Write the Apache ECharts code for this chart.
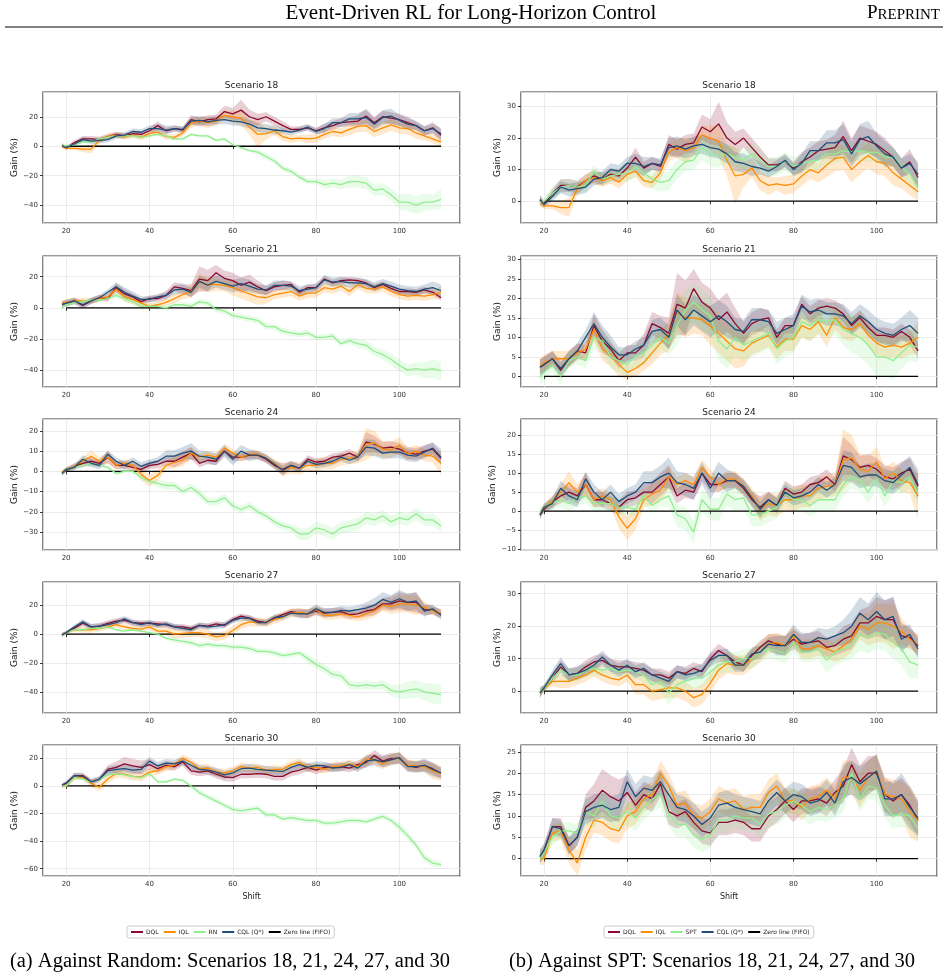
<!DOCTYPE html>
<html>
<head>
<meta charset="utf-8">
<script src="https://cdn.jsdelivr.net/npm/echarts@6/dist/echarts.min.js"></script>
<style>html,body{margin:0;background:#fff}#chart{width:948px;height:979px}</style>
</head>
<body>
<div id="chart"></div>
<script>
// shift values where the curves are sampled
var shifts = [19,20,22,24,26,28,30,32,34,36, 38,40,42,44,46,48,50,52,54,56, 58,60,62,64,66,68,70,72,74,76, 78,80,82,84,86,88,90,92,94,96, 98,100,102,104,106,108,110];

// Scenario 18 (mean gain %, then std band)
var s18Dql = [0.5,-1,2.5,5,5,4.5,6.5,8,7,8.5, 8,10.5,14,10.5,12,11,18,16.5,18,18.5, 23.5,22,24.5,20,18,20,17,14,11.5,11.5, 12.5,10.5,12.5,14,16,16.5,17,20.5,16,20, 19,18,16,14,10.5,12.5,7.5];
var s18Iql = [0,-1.5,-1.5,-2,-2,4,6.5,7.5,6.5,7.5, 6,8.5,9.5,6.5,6,9,15.5,17,16,17, 21,20,19,13,8,8.5,10.5,6.5,5,5.5, 5,5.5,8,10,9,11.5,13.5,14,10,12.5, 14.5,12.5,12,9,7,5,3];
var s18Cql = [0.5,-1,1.5,4.5,3.5,4,4.5,7,7.5,10, 9.5,12,12,11,12,11.5,17,17.5,16.5,17.5, 18,17,16.5,15,12.5,12,11,10.5,9.5,11, 13,10,12,16,16,18.5,18.5,19.5,15,19.5, 20.5,17.5,15,14,10.5,12,8.5];
var s18Spt = [-0.5,0,2.5,4.5,5,4.5,5,9.5,7,8, 8.5,9,11,9,7,6,6.5,10,12.5,13, 17,15,14.5,15,14,13,15,13,11,11, 12.5,11,12,12.5,13,15,15,16,15.5,16, 15.5,15.5,14,14,11,8.5,4.5];
var s18Rn = [1,0,1,3,3,5,6,7,7,7, 6,7,8,7,5,5,8,7,7,4, 5,1,-1,-3,-4,-7,-10,-15,-17,-21, -24,-24,-26,-25,-26,-24,-24,-25,-30,-29, -33,-38,-38,-40,-38,-38,-36];
var sd18Dql = [1.5,1,1.5,2,2,2,2,2,2,2, 2,2,3,2,2,2,3,3,3,3, 4,4,7,5,4,3,3,3,2,2, 2,2,3,3,3,3,4,5,4,4, 4,4,4,3,3,4,4];
var sd18Iql = [1.5,1,1,2,3,2,2,2,2,2, 2,2,2,2,2,2,3,3,4,3, 3,4,5,5,9,4,3,3,3,2, 3,3,3,3,3,4,4,4,4,4, 4,4,4,4,3,3,3];
var sd18Cql = [1.5,1,1.5,2,2,2,2,2,2,2, 2,2,3,3,2,2,3,3,3,3, 3,3,3,3,3,3,3,2,2,2, 2,2,3,3,3,4,4,5,4,5, 5,4,4,3,3,3,4];
var sd18Spt = [1,1,2,2,2,2,2,2,2,2, 2,3,3,3,3,3,3,3,3,3, 4,4,4,3,3,3,4,3,3,3, 3,3,3,3,3,3,3,3,3,3, 3,3,3,3,3,3,3];
var sd18Rn = [1,1,1,1,1,1,1,1,1,1, 1,1,1,1,1,1,1,1,1,1, 1,1,1,1,2,2,2,2,2,2, 2,2,3,3,3,4,4,4,4,4, 4,5,6,6,6,5,7];

// Scenario 21
var s21Dql = [2.3,3,4.5,1.5,4.5,6.5,6,13,9,7, 4,6,6,8,13.5,12.5,11,18.5,17.5,22.5, 19,17.5,14.5,16.5,13.5,11,13.5,14.5,15,10, 13,13,18.5,16,17.5,18,17.5,16,13,15, 12.5,10.5,10.5,10,11.5,10,6.5];
var s21Iql = [2.5,3.5,4.5,4.5,4.5,6,7,12,7,5.5, 3,1,2,3.5,6,8.5,10.5,16.5,15,15, 14.5,13,11,9,7,6.5,8.5,9.5,10.5,7.5, 9.5,9.5,13,12,14,10.5,15,12.5,12,13.5, 10.5,8.5,7.5,8,7.5,8.5,10];
var s21Cql = [2.3,3,4.5,2,4.5,6.5,10,13.5,10,7.5, 5.5,5.5,7,8,11.5,12,10,17,14.5,17, 15.5,14,15.5,14,12,11.5,14.5,14.5,14,11, 12,13,18,16.5,17,16,16,15.5,13.5,15.5, 14,12,11,10.5,12,13,11];
var s21Spt = [-0.3,1,3,0,4,5,4,10,9,5, 4,3,5,6,8,10,8.5,13,17,19, 17,15.5,9,7,10,8,9,10,11,7, 9,10,14,13,14.5,14,14.5,12,11,10, 8,5,5,4,6,8,7.5];
var s21Rn = [0,2,3,4,5,5,6,8,6,4, 1,1,1,0,2,2,1,4,3,-1, -2,-5,-6,-7,-8,-12,-12,-15,-16,-17, -16,-19,-19,-18,-23,-21,-23,-24,-28,-30, -33,-37,-40,-39,-40,-39,-40.5];
var sd21Dql = [2,2,2,2,2,2,2,3,3,2, 2,2,2,3,3,3,4,8,7,5, 5,5,5,5,4,3,3,3,2,2, 2,2,2,2,2,2,2,2,2,2, 2,2,2,2,2,2,2];
var sd21Iql = [2,2,2,2,2,2,2,3,3,3, 3,2,2,2,3,3,4,5,5,4, 4,5,5,5,5,4,3,3,3,3, 3,3,3,3,3,3,3,3,3,3, 3,3,3,3,3,3,4];
var sd21Cql = [2,2,2,2,2,2,2,3,3,3, 2,2,2,2,3,3,3,4,4,4, 4,4,4,4,3,3,3,3,3,3, 3,3,3,3,3,3,3,3,3,3, 3,3,3,3,3,4,4];
var sd21Spt = [2,2,2,2,2,2,2,3,3,3, 3,3,3,3,3,3,3,5,5,5, 5,5,5,5,5,4,4,4,4,4, 4,4,4,4,4,4,4,4,5,5, 5,5,5,5,4,4,4];
var sd21Rn = [1,1,1,1,1,1,1,2,2,2, 2,2,2,2,2,2,2,2,2,2, 2,2,2,2,2,2,2,2,2,2, 2,2,2,2,2,2,3,3,3,3, 4,4,4,4,5,6,6];

// Scenario 24
var s24Dql = [-1,0.5,2.5,4,5,4,7,3,3,2, 1,3,3.5,5,5,7,9,4,5.5,5, 10,7,7,8,8,6,3,1,3,1.5, 6,4.5,5,7,7.5,9,7,14.5,13.5,11.5, 12,11,9,8.5,10,11,6.5];
var s24Iql = [-0.5,1,2.5,5,7.5,5,7,3,4,3, -1.5,-4.5,-2,3,4.5,5.5,9,7,8,7, 11.5,9,7,8.5,8.5,6.5,4,0.5,2,1.5, 3,3,4,4,6,6.5,7,13.5,14,11, 10.5,13,8.5,10,8,7.5,4];
var s24Cql = [-1,1,2,6,4,3,8.5,5,3,5, 2.5,4,5,7.5,7.5,9,10,7.5,7,6, 10,6,10,8,8,6.5,3.5,0.5,3,1.5, 5,3.5,4,5,7,5.5,7,12,11.5,9, 9.5,9.5,8,7.5,9.5,11.5,7];
var s24Spt = [-0.5,1,2,3,2,3.5,4,2,2,2, 1,1,0.5,4,1.5,3,4,-1,-2,-5.5, 3,0.5,0.5,4.5,3,3.5,-1,-1,0,1, 5,3,3,1.5,3,3,3,7,9,8, 5,8.5,4,8,7.5,9,4.5];
var s24Rn = [-1,1,2,3,4,3,2,-1,0,0, -3,-5,-6,-7,-7,-10,-8,-11,-15,-15, -13,-17,-19,-17,-20,-22,-25,-27,-28,-31, -31,-28,-29,-31,-28,-27,-26,-23,-24,-22, -25,-23,-24,-21,-24,-24,-27];
var sd24Dql = [1,1,1.5,2,2,2,3,2,2,2, 2,2,2,2,3,3,3,2,2,2, 2,2,2,2,2,2,2,3,2,2, 2,2,2,2,2,2,2,5,4,3, 3,3,3,3,3,3,3];
var sd24Iql = [1,1,1.5,2,3,2,3,2,2,2, 3,3,3,2,3,3,3,2,2,2, 2,2,2,2,2,2,2,3,3,3, 3,3,3,3,3,3,3,8,6,4, 4,4,3,3,3,3,6];
var sd24Cql = [1,1,1.5,2,2,2,2,2,2,2, 2,2,2,3,3,3,4,3,3,3, 3,3,3,3,2,2,2,2,2,2, 2,2,2,2,2,2,2,4,4,3, 3,3,3,3,3,3,4];
var sd24Spt = [1,1,1.5,2,2,2,2,2,2,2, 2,2,2,2,2,2,3,3,3,3, 3,3,3,3,3,3,3,3,3,3, 3,3,3,3,3,3,3,3,3,3, 3,3,3,3,3,3,3];
var sd24Rn = [1,1,1,1,1,1,1,1,1,1, 1,1,2,2,2,2,2,2,2,2, 2,2,2,2,2,2,2,2,2,3, 3,3,3,3,3,3,3,3,3,3, 3,3,3,3,3,3,3];

// Scenario 27
var s27Dql = [-0.5,1,4,7.5,5,5.5,7.5,9,9.5,8, 7.5,7.5,7,6.5,5,5,4,6,5.5,7, 6,10,12.5,11,9,8,11,13.5,15.5,14.5, 14,16,14.5,15,15.5,13.5,14,16,17,21, 21,23,22,22,17,16.5,14];
var s27Iql = [-0.5,1,3,3,3,4,5,6.5,5,4, 3.5,5,2,2,0,0.5,1,1,0,-2, -1,2.5,6.5,8.5,8,8,10,12,14.5,15, 14,17,13,13,14,13,12,14,16,20, 19,21,21,20,18.5,16,14.5];
var s27Cql = [-0.5,1,5,8.5,5,5.5,6.5,8,10.5,8, 6.5,8,6,7,5,4,3,6,5,5.5, 6.5,9.5,11,11,8,8,11.5,12,14.5,14, 14,17.5,15,15,16.5,16,17,18,20,24, 22,24.5,22,23,16,17.5,13];
var s27Spt = [0,1,4,6.5,5,5,6.5,7,6.5,7, 6,6.5,6,5,2,3,-0.5,2,3,4, 4,6,8,9,9,10,10,12,13,12.5, 11.5,15,12,12,13,9.5,12,13,14,17.5, 16.5,18,17.5,15,13,9,8];
var s27Rn = [-1,1,3,3,4,4,5,3,2,3, 2,1,0,-3,-4,-5,-6,-8,-7,-8, -8,-9,-9,-10,-12,-12,-13,-15,-14,-13, -17,-21,-24,-28,-29,-35,-36,-35,-36,-35, -39,-40,-39,-38,-40,-41,-42];
var sd27Dql = [1.5,1,1.5,2,2,2,2,2,2,2, 2,2,2,2,2,2,2,2,2,2, 2,2,2,2,2,2,2,2,2,3, 3,3,3,3,3,3,3,4,4,4, 5,6,6,7,4,3,3];
var sd27Iql = [1.5,1,1.5,2,2,2,2,2,2,2, 2,2,3,3,3,3,3,3,3,3, 3,3,3,3,3,3,3,3,3,3, 3,3,3,3,3,3,3,4,4,4, 5,6,6,7,4,3,3];
var sd27Cql = [1.5,1,1.5,2,2,2,2,2,2,2, 2,2,2,2,2,2,2,2,2,2, 2,2,2,2,2,2,2,2,2,3, 3,3,3,3,3,3,3,4,5,5, 5,6,6,6,4,3,3];
var sd27Spt = [1.5,1,1.5,2,2,2,2,2,2,2, 2,2,2,2,3,3,4,3,3,3, 3,3,3,3,3,3,3,3,3,3, 3,3,3,3,3,4,4,4,4,5, 5,5,5,5,5,5,4];
var sd27Rn = [1,1,1,1,1,1,1,1,1,1, 1,1,1,1,2,2,2,2,2,2, 2,2,2,2,2,2,2,2,2,2, 3,3,3,3,3,3,3,3,3,3, 4,5,6,6,6,7,7];

// Scenario 30
var s30Dql = [0.5,2,7.5,7.5,3,5,12,13.5,16,14.5, 13.5,15.5,12.5,15,14,17.5,11,10,11,8.5, 6.5,6,8.5,8.5,9,8.5,7,7,10,11.5, 13.5,11.5,13.5,13.5,14,13,15.5,17,22,18, 20,20,15,13.5,15,12.5,9];
var s30Iql = [0,0,6,6.5,2,-1,5,9,8.5,7, 6.5,10,11,14,15,20,17,12.5,13,10, 9.5,11,14,13,13.5,11.5,12,12,15.5,17, 13.5,13.5,12,14,14.5,16,14,19,19,16, 19,20.5,15,14.5,14,11,9];
var s30Cql = [0.5,2,7.5,7,3,5,11,12,12.5,11.5, 12,18,14.5,16.5,16,18,15,12,11.5,10, 8,9.5,12.5,13,12,11.5,11,10.5,13.5,15.5, 13.5,15,14.5,13,13.5,15.5,13,18,19,17.5, 19,20.5,14,14,15,12,9.5];
var s30Spt = [0,1.5,5,6.5,6.5,6,11,10,13.5,10, 9.5,11,9.5,12,14,15,10.5,8,8,5.5, 4.5,5.5,9,9,10,9.5,9.5,8,10.5,11, 12.5,13.5,12.5,11,12,11.5,12.5,14,20,14, 17,16.5,12.5,10,10.5,10,7];
var s30Rn = [0,0,6,5,3,5,8,9,8,7, 6,9,3,3,5,4,0,-5,-8,-11, -14,-17,-18,-17,-16,-21,-21,-24,-23,-24, -25,-25,-27,-27,-26,-25,-25,-26,-24,-22, -25,-30,-36,-43,-52,-56,-57];
var sd30Dql = [1.5,1.5,2,2,2,2,3,4,5,5, 5,4,3,3,3,3,3,3,3,3, 3,3,3,3,3,3,3,3,3,3, 3,3,3,3,3,3,3,4,4,4, 4,4,4,4,4,4,4];
var sd30Iql = [1.5,1.5,2,2,3,3,3,3,3,3, 3,3,3,3,3,3,3,3,3,3, 3,3,3,3,3,3,3,3,3,3, 3,3,3,3,3,3,3,4,4,4, 4,4,4,4,4,6,5];
var sd30Cql = [1.5,1.5,2,2,2,2,3,3,3,3, 3,3,3,3,3,3,3,3,3,3, 3,3,3,3,3,3,3,3,3,3, 3,3,3,3,3,3,3,4,4,4, 4,4,4,4,5,5,4];
var sd30Spt = [1.5,1.5,2,2,2,2,3,3,3,3, 3,3,3,3,3,3,3,3,3,3, 3,3,3,3,3,3,3,3,3,3, 3,3,3,3,3,3,3,3,3,3, 3,3,3,3,3,3,3];
var sd30Rn = [1,1,1,1,1,1,1,1,1,1, 1,1,1,1,1,1,2,2,2,2, 2,2,2,2,2,2,2,2,2,2, 2,2,2,2,2,2,2,2,2,2, 2,3,3,3,3,3,2];

var scenarioNames = ['Scenario 18', 'Scenario 21', 'Scenario 24', 'Scenario 27', 'Scenario 30'];
var zeroLine = [[20, 0], [110, 0]];

var scen = [
	{dql: s18Dql, iql: s18Iql, cql: s18Cql, spt: s18Spt, rn: s18Rn, sDql: sd18Dql, sIql: sd18Iql, sCql: sd18Cql, sSpt: sd18Spt, sRn: sd18Rn},
	{dql: s21Dql, iql: s21Iql, cql: s21Cql, spt: s21Spt, rn: s21Rn, sDql: sd21Dql, sIql: sd21Iql, sCql: sd21Cql, sSpt: sd21Spt, sRn: sd21Rn},
	{dql: s24Dql, iql: s24Iql, cql: s24Cql, spt: s24Spt, rn: s24Rn, sDql: sd24Dql, sIql: sd24Iql, sCql: sd24Cql, sSpt: sd24Spt, sRn: sd24Rn},
	{dql: s27Dql, iql: s27Iql, cql: s27Cql, spt: s27Spt, rn: s27Rn, sDql: sd27Dql, sIql: sd27Iql, sCql: sd27Cql, sSpt: sd27Spt, sRn: sd27Rn},
	{dql: s30Dql, iql: s30Iql, cql: s30Cql, spt: s30Spt, rn: s30Rn, sDql: sd30Dql, sIql: sd30Iql, sCql: sd30Cql, sSpt: sd30Spt, sRn: sd30Rn}
];

// y ranges [min, max, step]: left column (vs Random), right column (vs SPT)
var yLeft = [[-52.1, 36.8, 20], [-50.8, 33.3, 20], [-38.9, 25.9, 10], [-54.7, 36.1, 20], [-65.3, 29.7, 20]];
var yRight = [[-6.9, 34.6, 10], [-2.75, 30.85, 5], [-10.2, 24.2, 5], [-6.7, 33.6, 10], [-4.06, 26.6, 5]];

var col = {dql: '#8b0a2d', iql: '#ff8c00', green: '#90ee90', cql: '#1f4e79', zero: '#000000'};
var tops = [92, 256, 419, 582, 745];
var panelH = 131;
var cols = [{left: 43, width: 417, cx: 251.5}, {left: 521, width: 416, cx: 729}];

function rgba(hex, a) {
	var n = parseInt(hex.slice(1), 16);
	return 'rgba(' + (n >> 16) + ',' + ((n >> 8) & 255) + ',' + (n & 255) + ',' + a + ')';
}
function pairs(vals) {
	return shifts.map(function (x, i) { return [x, vals[i]]; });
}
function minus(v) { return String(v).replace('-', '\u2212'); }

function band(idx, mean, sd, color) {
	return {
		type: 'custom', xAxisIndex: idx, yAxisIndex: idx, z: 1, silent: true,
		data: [[shifts[0], mean[0]]],
		renderItem: function (params, api) {
			var up = [], lo = [];
			for (var i = 0; i < shifts.length; i++) {
				up.push(api.coord([shifts[i], mean[i] + sd[i]]));
				lo.unshift(api.coord([shifts[i], mean[i] - sd[i]]));
			}
			return {type: 'polygon', shape: {points: up.concat(lo)}, style: {fill: rgba(color, 0.2)}};
		}
	};
}
function line(idx, name, vals, color, w) {
	return {
		type: 'line', name: name, xAxisIndex: idx, yAxisIndex: idx, z: 3,
		data: pairs(vals), showSymbol: false, symbol: 'none',
		lineStyle: {color: color, width: w || 1.3}, itemStyle: {color: color}
	};
}

var grids = [], xAxes = [], yAxes = [], series = [], graphics = [];
var tickFont = {fontSize: 7, color: '#333', fontFamily: 'DejaVu Sans'};

for (var c = 0; c < 2; c++) {
	for (var r = 0; r < 5; r++) {
		var idx = c * 5 + r;
		var yr = c === 0 ? yLeft[r] : yRight[r];
		var d = scen[r];
		grids.push({left: cols[c].left, top: tops[r], width: cols[c].width, height: panelH,
			show: true, borderColor: '#333', borderWidth: 1.2, backgroundColor: 'transparent'});
		xAxes.push({
			type: 'value', gridIndex: idx, min: 14.45, max: 114.55, minInterval: 20, maxInterval: 20,
			axisLine: {show: false}, axisTick: {show: true, length: 3, lineStyle: {color: '#333'}},
			axisLabel: Object.assign({margin: 5, showMinLabel: false, showMaxLabel: false}, tickFont),
			splitLine: {show: true, lineStyle: {color: '#e6e6e6', width: 0.8}},
			name: r === 4 ? 'Shift' : '', nameLocation: 'middle', nameGap: 17,
			nameTextStyle: {fontSize: 8, color: '#222', fontFamily: 'DejaVu Sans'}
		});
		yAxes.push({
			type: 'value', gridIndex: idx, min: yr[0], max: yr[1], minInterval: yr[2], maxInterval: yr[2],
			axisLine: {show: false}, axisTick: {show: true, length: 3, lineStyle: {color: '#333'}},
			axisLabel: Object.assign({margin: 5, showMinLabel: false, showMaxLabel: false, formatter: minus}, tickFont),
			splitLine: {show: true, lineStyle: {color: '#e6e6e6', width: 0.8}},
			name: 'Gain (%)', nameLocation: 'middle', nameGap: c === 0 ? 19 : 19,
			nameTextStyle: {fontSize: 9, color: '#222', fontFamily: 'DejaVu Sans'}
		});
		var green = c === 0 ? d.rn : d.spt;
		var greenSd = c === 0 ? d.sRn : d.sSpt;
		series.push(band(idx, d.dql, d.sDql, col.dql));
		series.push(band(idx, d.iql, d.sIql, col.iql));
		series.push(band(idx, green, greenSd, col.green));
		series.push(band(idx, d.cql, d.sCql, col.cql));
		series.push(line(idx, 'DQL', d.dql, col.dql));
		series.push(line(idx, 'IQL', d.iql, col.iql));
		series.push(line(idx, c === 0 ? 'RN' : 'SPT', green, col.green));
		series.push(line(idx, 'CQL (Q*)', d.cql, col.cql));
		series.push({type: 'line', name: 'Zero line (FIFO)', xAxisIndex: idx, yAxisIndex: idx, z: 2,
			data: zeroLine, showSymbol: false, symbol: 'none',
			lineStyle: {color: col.zero, width: 1.3}, itemStyle: {color: col.zero}});
		graphics.push({type: 'text', x: cols[c].cx, y: tops[r] - 6,
			style: {text: scenarioNames[r], fill: '#222', font: '9px "DejaVu Sans"', align: 'center', verticalAlign: 'middle'}});
	}
}

var serif = '"Liberation Serif"';
graphics.push(
	{type: 'text', x: 471, y: 13, style: {text: 'Event-Driven RL for Long-Horizon Control', fill: '#000', font: '21px ' + serif, align: 'center', verticalAlign: 'middle'}},
	{type: 'text', x: 940, y: 13, style: {text: '{a|P}{b|REPRINT}', fill: '#000', align: 'right', verticalAlign: 'middle',
		rich: {a: {fontSize: 19, fontFamily: 'Liberation Serif', lineHeight: 19, verticalAlign: 'bottom'},
			b: {fontSize: 15, fontFamily: 'Liberation Serif', lineHeight: 19, verticalAlign: 'bottom'}}}},
	{type: 'line', shape: {x1: 5, y1: 27, x2: 943, y2: 27}, style: {stroke: '#000', lineWidth: 1}},
	{type: 'text', x: 230, y: 962, style: {text: '(a) Against Random: Scenarios 18, 21, 24, 27, and 30', fill: '#000', font: '20.5px ' + serif, align: 'center', verticalAlign: 'middle'}},
	{type: 'text', x: 712, y: 962, style: {text: '(b) Against SPT: Scenarios 18, 21, 24, 27, and 30', fill: '#000', font: '20.5px ' + serif, align: 'center', verticalAlign: 'middle'}}
);

function legend(left, names) {
	return {
		left: left, top: 926, data: names, icon: 'rect', itemWidth: 12, itemHeight: 2, itemGap: 5,
		padding: [3, 4], borderColor: '#ccc', borderWidth: 1, borderRadius: 2, selectedMode: false,
		textStyle: {fontSize: 6, color: '#222', fontFamily: 'DejaVu Sans', padding: [0, 0, 0, -2]}
	};
}

var chart = echarts.init(document.getElementById('chart'));
chart.setOption({
	animation: false,
	backgroundColor: '#fff',
	grid: grids,
	xAxis: xAxes,
	yAxis: yAxes,
	legend: [
		legend(127, ['DQL', 'IQL', 'RN', 'CQL (Q*)', 'Zero line (FIFO)']),
		legend(604, ['DQL', 'IQL', 'SPT', 'CQL (Q*)', 'Zero line (FIFO)'])
	],
	graphic: graphics,
	series: series
});
</script>
</body>
</html>
